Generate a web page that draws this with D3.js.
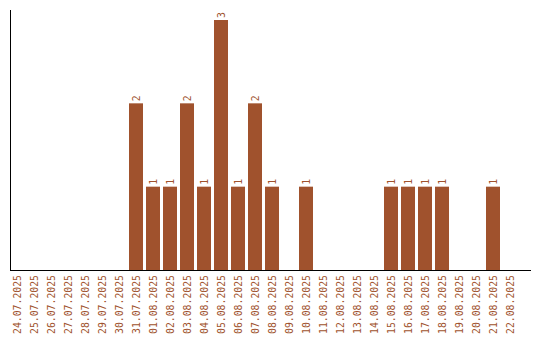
<!DOCTYPE html>
<html>
<head>
<meta charset="utf-8">
<script src="https://cdn.jsdelivr.net/npm/d3@7"></script>
<style>
  body { margin: 0; background: #fff; }
  svg { display: block; }
  .label { font-family: "DejaVu Sans Mono", monospace; font-size: 9.8px; fill: #a0522d; }
</style>
</head>
<body>
<svg id="chart" width="540" height="340"></svg>
<script>
const dates = [
  '24.07.2025', '25.07.2025', '26.07.2025', '27.07.2025', '28.07.2025',
  '29.07.2025', '30.07.2025', '31.07.2025', '01.08.2025', '02.08.2025',
  '03.08.2025', '04.08.2025', '05.08.2025', '06.08.2025', '07.08.2025',
  '08.08.2025', '09.08.2025', '10.08.2025', '11.08.2025', '12.08.2025',
  '13.08.2025', '14.08.2025', '15.08.2025', '16.08.2025', '17.08.2025',
  '18.08.2025', '19.08.2025', '20.08.2025', '21.08.2025', '22.08.2025'
];
const counts = [
  0, 0, 0, 0, 0, 0, 0, 2, 1, 1,
  2, 1, 3, 1, 2, 1, 0, 1, 0, 0,
  0, 0, 1, 1, 1, 1, 0, 0, 1, 0
];

const BAR_COLOR = '#a0522d';
const LEFT = 10;
const BASELINE = 270;

const svg = d3.select('#chart');

// 17px per day, 14px bars, 3px gaps
const x = d3.scaleBand()
  .domain(dates)
  .range([LEFT, LEFT + 17 * dates.length - 3])
  .paddingInner(3 / 17)
  .paddingOuter(0);

const y = d3.scaleLinear()
  .domain([0, 3])
  .range([BASELINE, 20]);

const data = dates.map((d, i) => ({ date: d, count: counts[i] }));

// bars
svg.append('g')
  .selectAll('rect')
  .data(data.filter((d) => d.count > 0))
  .join('rect')
  .attr('x', (d) => x(d.date))
  .attr('y', (d) => y(d.count))
  .attr('width', x.bandwidth())
  .attr('height', (d) => BASELINE - y(d.count))
  .attr('fill', BAR_COLOR);

// value labels, rotated
svg.append('g')
  .selectAll('text')
  .data(data.filter((d) => d.count > 0))
  .join('text')
  .attr('class', 'label')
  .attr('transform', (d) =>
    `translate(${x(d.date) + x.bandwidth() / 2 + 3.5},${y(d.count) - 2}) rotate(-90)`)
  .attr('text-anchor', 'start')
  .text((d) => d.count);

// axes lines
svg.append('line')
  .attr('x1', LEFT + 0.5).attr('x2', LEFT + 0.5)
  .attr('y1', 10).attr('y2', BASELINE)
  .attr('stroke', '#000');
svg.append('line')
  .attr('x1', LEFT).attr('x2', 531)
  .attr('y1', BASELINE + 0.5).attr('y2', BASELINE + 0.5)
  .attr('stroke', '#000');

// date labels, rotated
svg.append('g')
  .selectAll('text')
  .data(dates)
  .join('text')
  .attr('class', 'label')
  .attr('transform', (d) =>
    `translate(${x(d) + x.bandwidth() / 2 + 3.5},${BASELINE + 5}) rotate(-90)`)
  .attr('text-anchor', 'end')
  .text((d) => d);
</script>
</body>
</html>
